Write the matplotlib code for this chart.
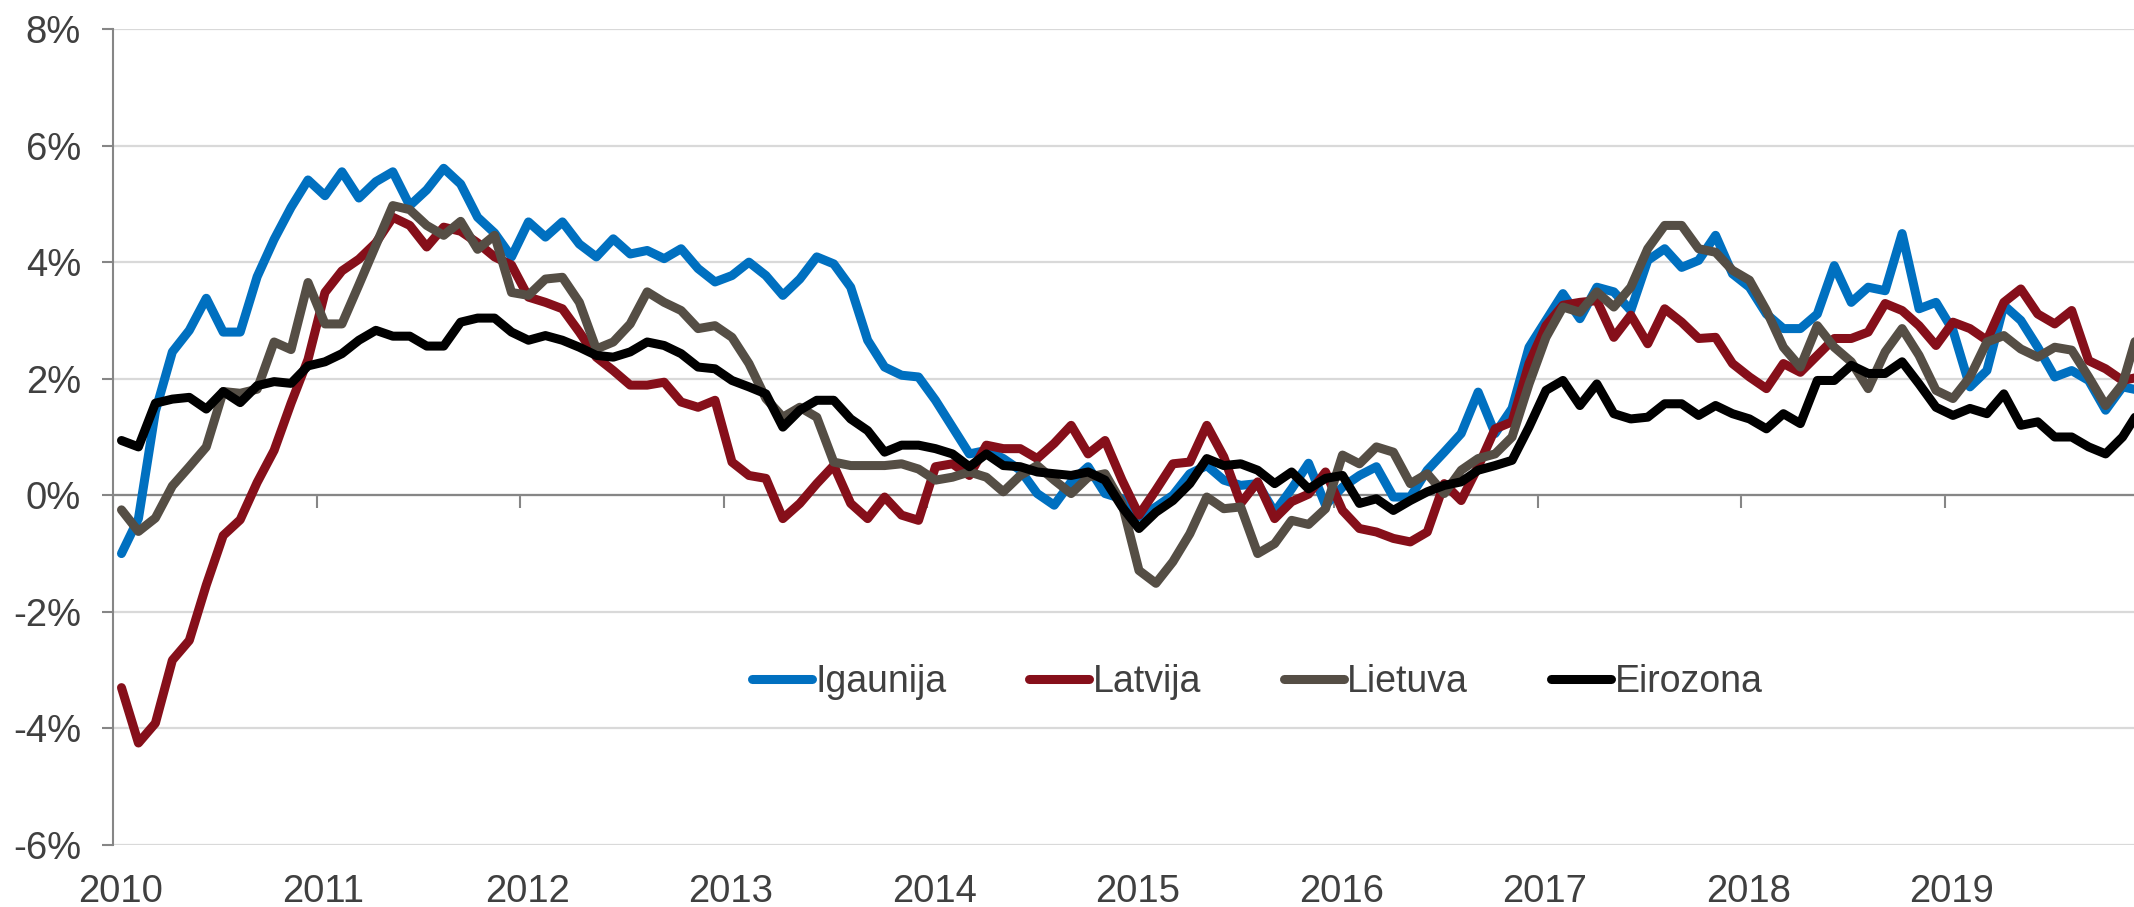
import numpy as np
import pandas as pd
import matplotlib
matplotlib.use("Agg")
from matplotlib import pyplot as plt
from matplotlib.ticker import FuncFormatter

plt.rcParams['font.family'] = ['Liberation Sans', 'DejaVu Sans']

# monthly data, Jan 2010 .. Dec 2019 (% change y/y)
months = pd.date_range('2010-01-01', periods=120, freq='MS')

igaunija = [
    -1.0, -0.4, 1.44, 2.46, 2.83, 3.38, 2.8, 2.8, 3.75, 4.39, 4.94, 5.41,
    5.14, 5.55, 5.1, 5.38, 5.55, 4.97, 5.24, 5.61, 5.34, 4.77, 4.5, 4.09,
    4.69, 4.43, 4.69, 4.31, 4.09, 4.4, 4.14, 4.2, 4.06, 4.23, 3.89, 3.66,
    3.77, 4.0, 3.77, 3.43, 3.71, 4.09, 3.97, 3.57, 2.66, 2.2, 2.06, 2.03,
    1.63, 1.17, 0.71, 0.77, 0.63, 0.43, 0.03, -0.17, 0.23, 0.49, 0.03, -0.06,
    -0.37, -0.2, 0.0, 0.37, 0.51, 0.26, 0.17, 0.2, -0.29, 0.11, 0.55, -0.17,
    0.14, 0.34, 0.49, -0.03, -0.03, 0.43, 0.74, 1.06, 1.77, 1.06, 1.49, 2.54,
    3.0, 3.46, 3.03, 3.57, 3.49, 3.17, 4.03, 4.23, 3.91, 4.03, 4.46, 3.8,
    3.57, 3.11, 2.86, 2.86, 3.11, 3.94, 3.31, 3.57, 3.51, 4.49, 3.2, 3.31,
    2.83, 1.86, 2.14, 3.26, 3.0, 2.54, 2.03, 2.14, 1.97, 1.46, 1.86, 1.8]

latvija = [
    -3.3, -4.25, -3.91, -2.83, -2.49, -1.54, -0.69, -0.42, 0.22, 0.77, 1.58, 2.33,
    3.48, 3.85, 4.05, 4.33, 4.77, 4.63, 4.26, 4.6, 4.53, 4.33, 4.09, 3.95,
    3.4, 3.31, 3.2, 2.8, 2.37, 2.14, 1.89, 1.89, 1.94, 1.6, 1.51, 1.63,
    0.57, 0.34, 0.29, -0.4, -0.14, 0.2, 0.51, -0.14, -0.4, -0.03, -0.34, -0.43,
    0.49, 0.54, 0.34, 0.86, 0.8, 0.8, 0.63, 0.89, 1.2, 0.71, 0.94, 0.26,
    -0.34, 0.09, 0.54, 0.57, 1.2, 0.66, -0.14, 0.23, -0.4, -0.11, 0.02, 0.4,
    -0.26, -0.57, -0.63, -0.74, -0.8, -0.63, 0.2, -0.09, 0.49, 1.14, 1.26, 2.26,
    2.91, 3.26, 3.31, 3.34, 2.71, 3.09, 2.6, 3.2, 2.97, 2.69, 2.71, 2.26,
    2.03, 1.83, 2.26, 2.11, 2.4, 2.69, 2.69, 2.8, 3.29, 3.17, 2.91, 2.57,
    2.97, 2.86, 2.66, 3.31, 3.54, 3.11, 2.94, 3.17, 2.31, 2.17, 1.97, 2.03]

lietuva = [
    -0.25, -0.62, -0.39, 0.16, 0.49, 0.83, 1.78, 1.75, 1.82, 2.63, 2.5, 3.65,
    2.94, 2.94, 3.61, 4.29, 4.97, 4.9, 4.63, 4.46, 4.7, 4.22, 4.46, 3.48,
    3.43, 3.71, 3.74, 3.31, 2.51, 2.63, 2.94, 3.49, 3.31, 3.17, 2.86, 2.91,
    2.71, 2.26, 1.66, 1.34, 1.51, 1.34, 0.57, 0.51, 0.51, 0.51, 0.54, 0.45,
    0.26, 0.31, 0.4, 0.31, 0.06, 0.34, 0.51, 0.26, 0.03, 0.31, 0.37, -0.14,
    -1.29, -1.51, -1.14, -0.66, -0.03, -0.23, -0.2, -1.0, -0.83, -0.43, -0.5, -0.23,
    0.69, 0.54, 0.83, 0.74, 0.2, 0.37, 0.03, 0.43, 0.63, 0.71, 1.0, 1.91,
    2.71, 3.23, 3.14, 3.49, 3.23, 3.57, 4.23, 4.63, 4.63, 4.23, 4.17, 3.86,
    3.69, 3.17, 2.54, 2.2, 2.91, 2.54, 2.29, 1.83, 2.46, 2.86, 2.4, 1.8,
    1.66, 2.03, 2.63, 2.74, 2.51, 2.37, 2.54, 2.49, 2.03, 1.54, 1.91, 2.9]

eirozona = [
    0.94, 0.83, 1.58, 1.65, 1.68, 1.48, 1.78, 1.59, 1.88, 1.95, 1.92, 2.22,
    2.29, 2.43, 2.66, 2.83, 2.73, 2.73, 2.56, 2.56, 2.97, 3.04, 3.04, 2.8,
    2.66, 2.74, 2.66, 2.54, 2.4, 2.37, 2.46, 2.63, 2.57, 2.43, 2.2, 2.17,
    1.97, 1.86, 1.74, 1.17, 1.46, 1.63, 1.63, 1.31, 1.11, 0.74, 0.86, 0.86,
    0.8, 0.71, 0.49, 0.71, 0.51, 0.49, 0.4, 0.37, 0.34, 0.4, 0.26, -0.2,
    -0.57, -0.29, -0.09, 0.2, 0.63, 0.51, 0.54, 0.43, 0.2, 0.4, 0.11, 0.29,
    0.34, -0.14, -0.06, -0.26, -0.09, 0.06, 0.17, 0.23, 0.43, 0.51, 0.6, 1.17,
    1.8, 1.97, 1.54, 1.91, 1.4, 1.31, 1.34, 1.57, 1.57, 1.37, 1.54, 1.4,
    1.31, 1.14, 1.4, 1.23, 1.97, 1.97, 2.23, 2.09, 2.09, 2.29, 1.91, 1.51,
    1.37, 1.49, 1.4, 1.74, 1.2, 1.26, 1.0, 1.0, 0.83, 0.71, 1.0, 1.46]

series = [('Igaunija', igaunija, '#0070C0'),
          ('Latvija', latvija, '#860F1A'),
          ('Lietuva', lietuva, '#554E45'),
          ('Eirozona', eirozona, '#000000')]

years = list(range(2010, 2020))
yticks = [-6, -4, -2, 0, 2, 4, 6, 8]

# points sit in the middle of each month
x = months.year + (months.month - 0.5) / 12.0

txt = '#404040'
axis_grey = '#868686'
fs = 27.5

fig = plt.figure(figsize=(21.34, 9.07), dpi=100)
ax = fig.add_axes([113 / 2134, 1 - 845 / 907, 1 - 113 / 2134, (845 - 29) / 907])

for name, vals, col in series:
    ax.plot(x, vals, color=col, lw=6.5, label=name,
            solid_joinstyle='round', solid_capstyle='round')

ax.set_xlim(2010, 2010 + (2134 - 113) / 203.5)
ax.set_ylim(-6, 8)
ax.set_yticks(yticks)
ax.yaxis.set_major_formatter(FuncFormatter(lambda v, p: '%d%%' % v))
ax.grid(axis='y', color='#d9d9d9', lw=1.6)
ax.set_axisbelow(True)

for s in ['top', 'right']:
    ax.spines[s].set_visible(False)
ax.spines['left'].set_color(axis_grey)
ax.spines['left'].set_linewidth(1.5)
ax.spines['bottom'].set_position(('data', 0))
ax.spines['bottom'].set_color(axis_grey)
ax.spines['bottom'].set_linewidth(1.6)
ax.spines['bottom'].set_zorder(1.5)

ax.tick_params(axis='y', direction='out', length=8, width=1.5, color=axis_grey,
               labelsize=fs, labelcolor=txt, pad=15)
ax.set_xticks(years)
ax.tick_params(axis='x', direction='out', length=9, width=1.5, color=axis_grey,
               labelbottom=False)

# year labels at the bottom of the plot
sec = ax.secondary_xaxis(0.0)
sec.set_xticks([yr + 0.035 for yr in years])
sec.set_xticklabels([str(yr) for yr in years])
sec.tick_params(length=0, labelsize=fs, labelcolor=txt, pad=21)
sec.spines['bottom'].set_visible(False)

leg = ax.legend(loc='center', bbox_to_anchor=(0.566, 0.2), ncol=4, frameon=False,
                fontsize=27, handlelength=1.6, handletextpad=0.1,
                columnspacing=2.2)
for t in leg.get_texts():
    t.set_color(txt)

fig.savefig('out.png', dpi=100)
